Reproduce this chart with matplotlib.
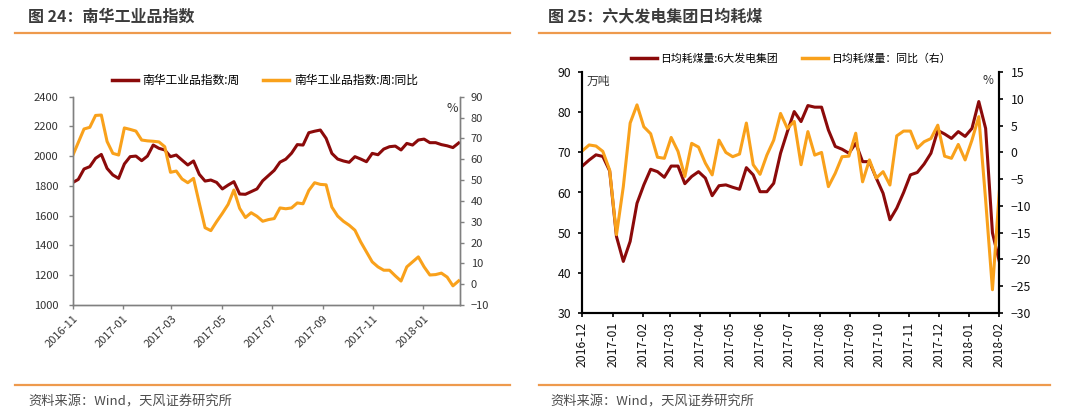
import matplotlib
matplotlib.use('Agg')
import matplotlib.pyplot as plt
import matplotlib.dates as mdates
import pandas as pd
from matplotlib.lines import Line2D

plt.rcParams['font.family'] = ['Noto Sans CJK SC', 'DejaVu Sans']

# 图24 南华工业品指数 (weekly)
nh_start = '2016-11-01'
nh_index = [1822, 1844, 1914, 1930, 1986, 2012, 1918, 1874, 1851, 1948,
            1997, 2001, 1970, 2001, 2075, 2053, 2042, 1997, 2008, 1974,
            1941, 1968, 1878, 1833, 1840, 1824, 1780, 1806, 1829, 1746,
            1744, 1762, 1780, 1835, 1870, 1905, 1960, 1980, 2020, 2078,
            2075, 2158, 2168, 2176, 2120, 2019, 1981, 1968, 1959, 1997,
            1981, 1963, 2019, 2010, 2048, 2064, 2068, 2042, 2086, 2075,
            2109, 2115, 2091, 2091, 2078, 2070, 2058, 2089]
nh_yoy = [61.5, 68, 74.5, 75.3, 81, 81.2, 68.5, 62.8, 62, 75,
          74.3, 73.5, 69.2, 68.8, 68.6, 68.3, 66, 53.7, 54.3, 50.5,
          48.7, 50.8, 38.8, 27.1, 25.7, 30, 34, 38.3, 45.2, 36.4,
          32, 34.3, 32.6, 30.2, 31, 31.5, 36.6, 36.2, 36.6, 39,
          38.6, 45, 48.7, 47.9, 47.7, 37, 32.7, 30.2, 28.3, 25.9,
          20.3, 15.5, 10.7, 8.3, 6.7, 6.7, 4.0, 1.5, 8.3, 10.7,
          13.1, 8.3, 4.4, 4.6, 5.3, 3.4, -0.8, 1.6]

# 图25 六大发电集团日均耗煤 (weekly)
coal_start = '2016-12-01'
coal_daily = [66.6, 68.1, 69.4, 69.0, 65.4, 49.0, 42.8, 47.8, 57.3, 61.9,
              65.8, 65.2, 63.8, 66.6, 66.6, 62.2, 64.0, 65.2, 63.6, 59.2,
              61.7, 61.9, 61.3, 60.8, 66.2, 64.4, 60.2, 60.2, 62.3, 69.8,
              75.2, 80.2, 77.7, 81.7, 81.3, 81.3, 75.6, 71.5, 70.8, 69.8,
              72.3, 67.7, 67.7, 63.6, 59.8, 53.2, 56.1, 60.0, 64.4, 65.0,
              67.1, 69.8, 75.5, 74.6, 73.5, 75.2, 74.0, 76.0, 82.7, 76.0,
              49.9, 42.8]
coal_yoy = [0.3, 1.4, 1.2, 0.2, -3.3, -15.4, -6.4, 5.5, 8.9, 4.8,
            3.5, -0.9, -1.1, 2.8, 0.2, -4.5, 1.7, 1.0, -2.0, -4.2,
            2.3, 0.0, -0.8, -0.3, 5.5, -2.3, -4.1, -0.5, 2.3, 7.3,
            4.5, 5.8, -2.3, 3.9, -0.5, 0.0, -6.4, -3.9, -0.8, -0.7,
            3.6, -5.5, -1.4, -4.8, -3.6, -6.1, 3.1, 4.0, 4.0, 0.8,
            2.0, 2.6, 5.1, -0.7, -1.1, 1.5, -1.4, 2.3, 6.7, -8.9,
            -25.7, -7.3]

nh_dates = pd.date_range(nh_start, periods=len(nh_index), freq='7D')
coal_dates = pd.date_range(coal_start, periods=len(coal_daily), freq='7D')

RED = '#8B0A0A'
ORANGE = '#F9A11B'
LINE = '#EE9A4D'

W, H = 1080, 419
fig = plt.figure(figsize=(W / 100, H / 100), dpi=100)


def box(l, t, r, b):
    return [l / W, 1 - b / H, (r - l) / W, (b - t) / H]


def hline(x0, x1, y):
    fig.add_artist(Line2D([x0 / W, x1 / W], [1 - y / H] * 2, color=LINE, lw=1.6))


# headers and footers
fig.text(28 / W, 1 - 16.5 / H, '图 24：南华工业品指数', fontsize=11.5, fontweight='bold',
         color='#3b3b3b', va='center')
fig.text(548 / W, 1 - 16.5 / H, '图 25：六大发电集团日均耗煤', fontsize=11.5, fontweight='bold',
         color='#3b3b3b', va='center')
hline(15, 510, 33)
hline(539, 1050, 33)
hline(15, 510, 385)
hline(539, 1050, 385)
fig.text(28 / W, 1 - 402 / H, '资料来源：Wind，天风证券研究所', fontsize=9.5, color='#4d4d4d', va='center')
fig.text(550 / W, 1 - 402 / H, '资料来源：Wind，天风证券研究所', fontsize=9.5, color='#4d4d4d', va='center')

# ---- left chart ----
GRAY = '#808080'
ax1 = fig.add_axes(box(72.5, 96.7, 459.5, 305))
ax1.plot(nh_dates, nh_index, color=RED, lw=2.2)
ax1.set_ylim(1000, 2400)
ax1.set_yticks(range(1000, 2401, 200))
ax1.set_xlim(nh_dates[0], nh_dates[-1] + pd.Timedelta(days=1))
ax1.xaxis.set_major_locator(mdates.MonthLocator(bymonth=[1, 3, 5, 7, 9, 11]))
ax1.xaxis.set_major_formatter(mdates.DateFormatter('%Y-%m'))
for lab in ax1.get_xticklabels():
    lab.set_rotation(45)
    lab.set_ha('right')
    lab.set_rotation_mode('anchor')
ax1b = ax1.twinx()
ax1b.plot(nh_dates, nh_yoy, color=ORANGE, lw=2.2)
ax1b.set_ylim(-10, 90)
ax1b.set_yticks(range(-10, 91, 10))
for a in (ax1, ax1b):
    a.spines['top'].set_visible(False)
    for s in ('left', 'right', 'bottom'):
        a.spines[s].set_color(GRAY)
        a.spines[s].set_linewidth(1)
    a.tick_params(colors=GRAY, labelcolor='#333333', labelsize=8, length=3, width=1)
ax1.tick_params(axis='y', pad=7)
ax1.tick_params(axis='x', pad=3)
ax1b.tick_params(axis='y', pad=5)
fig.text(452.5 / W, 1 - 108 / H, '%', fontsize=9, color='#333333', ha='center', va='center')

h1 = [Line2D([], [], color=RED, lw=2.5), Line2D([], [], color=ORANGE, lw=2.5)]
fig.legend(h1, ['南华工业品指数:周', '南华工业品指数:周:同比'], loc='center',
           bbox_to_anchor=(265 / W, 1 - 80.5 / H), ncol=2, frameon=False, fontsize=8.5,
           handlelength=2.2, handletextpad=0.4, columnspacing=2.0)

# ---- right chart ----
ax2 = fig.add_axes(box(582.3, 72.3, 999.3, 312.7))
ax2.plot(coal_dates, coal_daily, color=RED, lw=2.2)
ax2.set_ylim(30, 90)
ax2.set_yticks(range(30, 91, 10))
ax2.set_xlim(coal_dates[0], coal_dates[-1])
ax2.xaxis.set_major_locator(mdates.MonthLocator())
ax2.xaxis.set_major_formatter(mdates.DateFormatter('%Y-%m'))
for lab in ax2.get_xticklabels():
    lab.set_rotation(90)
ax2b = ax2.twinx()
ax2b.plot(coal_dates, coal_yoy, color=ORANGE, lw=2.2)
ax2b.set_ylim(-30, 15)
ax2b.set_yticks(range(-30, 16, 5))
for a in (ax2, ax2b):
    a.spines['top'].set_visible(False)
    for s in ('left', 'right', 'bottom'):
        a.spines[s].set_color('black')
        a.spines[s].set_linewidth(1.5)
    a.tick_params(colors='black', labelcolor='#111111', labelsize=8.8, length=3, width=1.2)
ax2.tick_params(axis='y', pad=5)
ax2b.tick_params(axis='y', pad=5)
fig.text(598 / W, 1 - 81 / H, '万吨', fontsize=8.5, color='#333333', ha='center', va='center')
fig.text(988 / W, 1 - 80 / H, '%', fontsize=8.5, color='#333333', ha='center', va='center')

h2 = [Line2D([], [], color=RED, lw=2.5), Line2D([], [], color=ORANGE, lw=2.5)]
fig.legend(h2, ['日均耗煤量:6大发电集团', '日均耗煤量：同比（右）'], loc='center',
           bbox_to_anchor=(791 / W, 1 - 59 / H), ncol=2, frameon=False, fontsize=7.8,
           handlelength=2.4, handletextpad=0.3, columnspacing=2.2)

fig.savefig('out.png', dpi=100, facecolor='white')
